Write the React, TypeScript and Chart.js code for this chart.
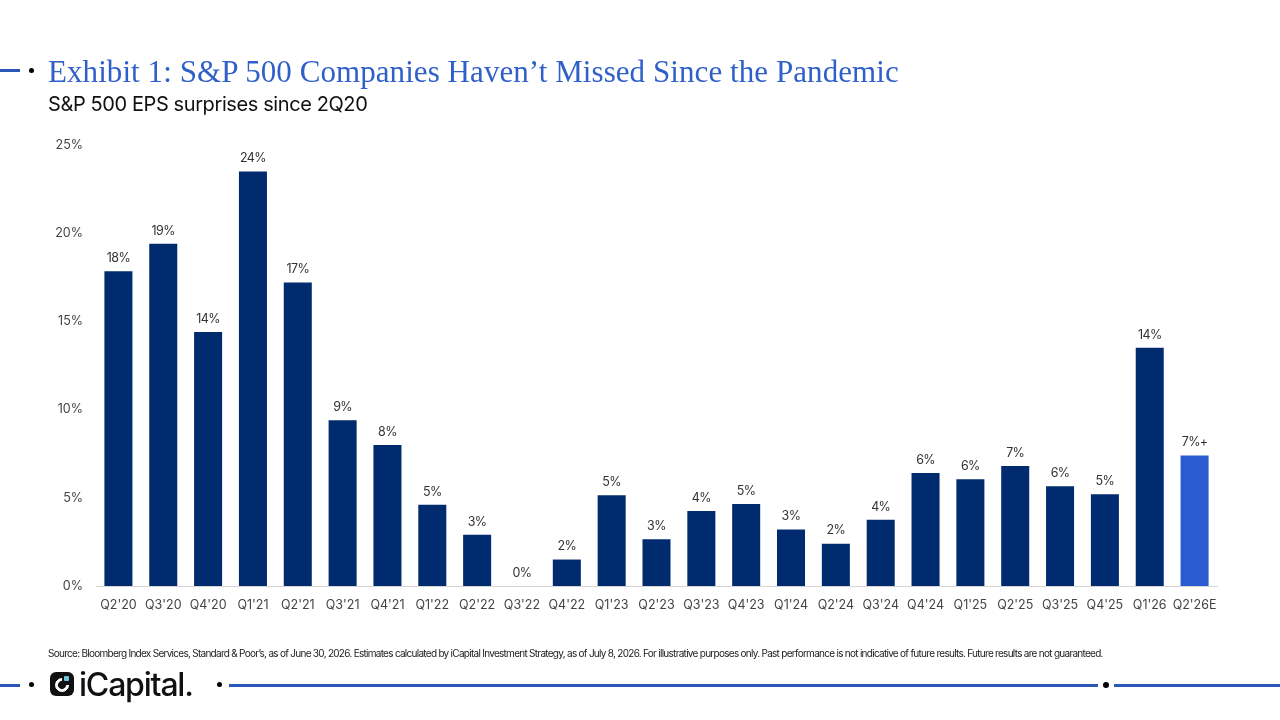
import React, { useEffect, useRef } from "react"
import { Chart, registerables } from "chart.js"

Chart.register(...registerables)

const quarters = [
  "Q2'20", "Q3'20", "Q4'20", "Q1'21", "Q2'21", "Q3'21", "Q4'21", "Q1'22", "Q2'22",
  "Q3'22", "Q4'22", "Q1'23", "Q2'23", "Q3'23", "Q4'23", "Q1'24", "Q2'24", "Q3'24",
  "Q4'24", "Q1'25", "Q2'25", "Q3'25", "Q4'25", "Q1'26", "Q2'26E",
]
const surprises = [
  17.85, 19.4, 14.4, 23.5, 17.2, 9.4, 8.0, 4.6, 2.9, 0, 1.5, 5.15, 2.65, 4.25, 4.65,
  3.2, 2.4, 3.75, 6.4, 6.05, 6.8, 5.65, 5.2, 13.5, 7.4,
]
const barLabels = [
  "18%", "19%", "14%", "24%", "17%", "9%", "8%", "5%", "3%", "0%", "2%", "5%", "3%",
  "4%", "5%", "3%", "2%", "4%", "6%", "6%", "7%", "6%", "5%", "14%", "7%+",
]

const NAVY = "#002b6e"
const BLUE = "#2a5bd0"
const SANS = "Inter, 'Liberation Sans', sans-serif"
const SOURCE =
  "Source: Bloomberg Index Services, Standard & Poor’s, as of June 30, 2026. Estimates calculated by iCapital Investment Strategy, as of July 8, 2026. For illustrative purposes only. Past performance is not indicative of future results. Future results are not guaranteed."

const barLabelPlugin = {
  id: "barLabels",
  afterDatasetsDraw(chart: Chart) {
    const { ctx } = chart
    const bars = chart.getDatasetMeta(0).data
    ctx.save()
    ctx.font = `12.5px ${SANS}`
    ctx.fillStyle = "#333333"
    ctx.textAlign = "center"
    ctx.textBaseline = "middle"
    ;(ctx as any).letterSpacing = "-0.6px"
    bars.forEach((bar, i) => {
      ctx.fillText(barLabels[i], bar.x, bar.y - 13)
    })
    ctx.restore()
  },
}

const abs = (style: React.CSSProperties): React.CSSProperties => ({
  position: "absolute",
  whiteSpace: "nowrap",
  ...style,
})

const Line = ({ left, width, top }: { left: number; width: number; top: number }) => (
  <div style={abs({ left, width, top, height: 3, background: "#2b57b8" })} />
)

const Dot = ({ left, top, size }: { left: number; top: number; size: number }) => (
  <div style={abs({ left, top, width: size, height: size, borderRadius: "50%", background: "#000" })} />
)

const App: React.FC = () => {
  const chartRef = useRef<HTMLCanvasElement | null>(null)

  useEffect(() => {
    document.body.style.margin = "0"
    if (!chartRef.current) return
    const tickFont = { family: SANS, size: 12.5 }
    const chart = new Chart(chartRef.current, {
      type: "bar",
      plugins: [barLabelPlugin],
      data: {
        labels: quarters,
        datasets: [
          {
            data: surprises,
            backgroundColor: quarters.map((_, i) => (i === quarters.length - 1 ? BLUE : NAVY)),
            barPercentage: 0.625,
            categoryPercentage: 1,
          },
        ],
      },
      options: {
        responsive: false,
        animation: false,
        layout: { padding: { left: 0, right: 63, top: 145, bottom: 94 } },
        plugins: { legend: { display: false }, tooltip: { enabled: false } },
        scales: {
          x: {
            grid: { display: false },
            border: { color: "#d4d4d4", width: 1 },
            ticks: { font: tickFont, color: "#444444", padding: 4, maxRotation: 0, autoSkip: false },
            afterFit: (scale: any) => {
              scale.height = 40
            },
          },
          y: {
            min: 0,
            max: 25,
            grid: { display: false },
            border: { display: false },
            ticks: {
              stepSize: 5,
              font: tickFont,
              color: "#444444",
              padding: 5,
              callback: (v: any) => `${v}%`,
            },
            afterFit: (scale: any) => {
              scale.width = 96
            },
          },
        },
      },
    })
    return () => {
      chart.destroy()
    }
  }, [])

  return (
    <div style={{ position: "relative", width: 1280, height: 720, overflow: "hidden", background: "#fff" }}>
      <canvas ref={chartRef} width={1280} height={720} style={abs({ left: 0, top: 0, display: "block" })} />

      <Line left={0} width={20} top={69} />
      <Dot left={29} top={68} size={5} />
      <div
        style={abs({
          left: 48,
          top: 53,
          fontFamily: "'Liberation Serif', serif",
          fontSize: 31,
          lineHeight: "38px",
          color: "#2f5fc8",
          letterSpacing: "0.07px",
        })}
      >
        Exhibit 1: S&amp;P 500 Companies Haven’t Missed Since the Pandemic
      </div>
      <div
        style={abs({
          left: 48,
          top: 92,
          fontFamily: SANS,
          fontSize: 20,
          lineHeight: "24px",
          color: "#111",
          letterSpacing: "-0.4px",
        })}
      >
        S&amp;P 500 EPS surprises since 2Q20
      </div>
      <div
        style={abs({
          left: 48,
          top: 646,
          fontFamily: SANS,
          fontSize: 10,
          lineHeight: "14px",
          color: "#222",
          letterSpacing: "-0.72px",
        })}
      >
        {SOURCE}
      </div>

      <Line left={0} width={20} top={684} />
      <Dot left={29} top={682} size={5} />
      <div style={abs({ left: 50, top: 672, width: 24, height: 24, borderRadius: 6, background: "#111" })}>
        <div
          style={abs({
            left: 5,
            top: 6,
            width: 14,
            height: 14,
            borderRadius: "50%",
            border: "3.5px solid #fff",
            borderTopColor: "transparent",
            transform: "rotate(45deg)",
            boxSizing: "border-box",
          })}
        />
        <div style={abs({ left: 14, top: 4, width: 5, height: 5, borderRadius: 1, background: "#6fc6d8" })} />
      </div>
      <div
        style={abs({
          left: 79,
          top: 666,
          fontFamily: SANS,
          fontSize: 32,
          fontWeight: 500,
          lineHeight: "38px",
          color: "#111",
          letterSpacing: "-1.2px",
        })}
      >
        iCapital.
      </div>
      <Dot left={217} top={682} size={5} />
      <Line left={229} width={869} top={684} />
      <Dot left={1103} top={682} size={6} />
      <Line left={1114} width={166} top={684} />
    </div>
  )
}

export default App
